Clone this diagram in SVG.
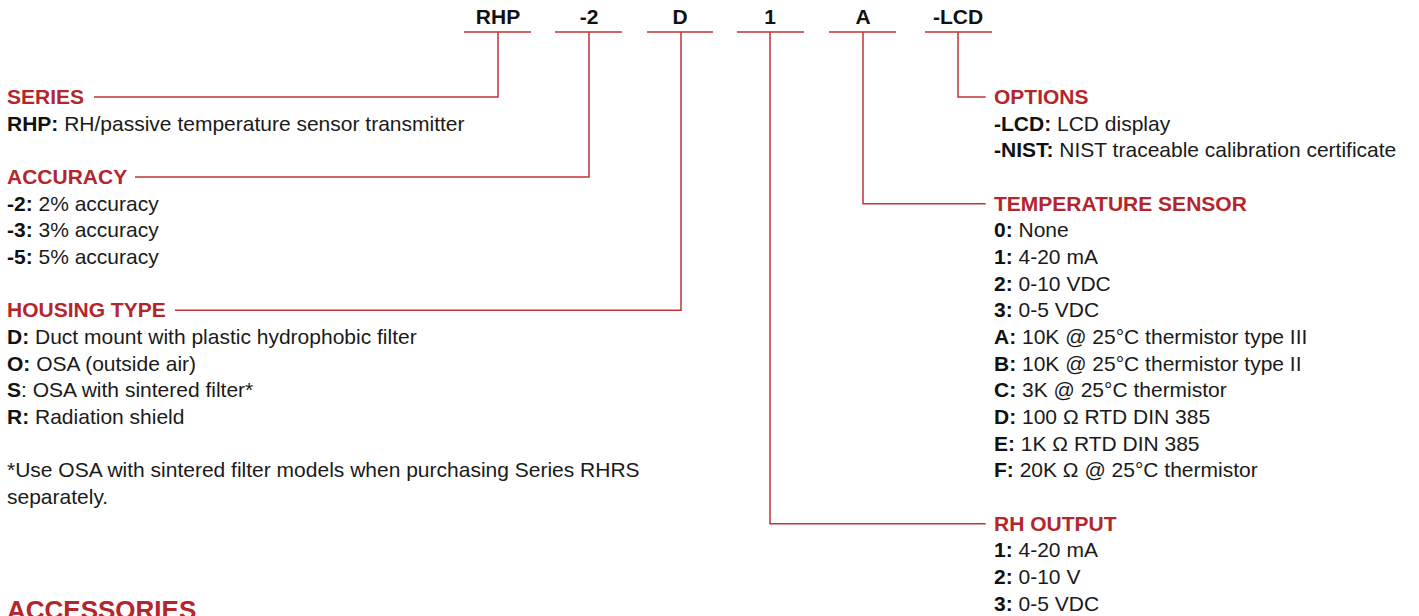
<svg xmlns="http://www.w3.org/2000/svg" width="1419" height="616" viewBox="0 0 1419 616">
<style>
text{font-family:"Liberation Sans",Arial,Helvetica,sans-serif;font-size:21px;fill:#1a1a1a}
.code{font-weight:bold;fill:#111;text-anchor:middle}
.h{font-weight:bold;fill:#b3262c}
.b{font-weight:bold;fill:#111}
.r{font-weight:normal}
.ln{fill:none;stroke:#c0333a;stroke-width:1.5}
</style>
<rect width="1419" height="616" fill="#fff"/>
<g id="codes">
<text class="code" x="498" y="24">RHP</text>
<text class="code" x="589" y="24">-2</text>
<text class="code" x="680" y="24">D</text>
<text class="code" x="770" y="24">1</text>
<text class="code" x="863" y="24">A</text>
<text class="code" x="958" y="24">-LCD</text>
</g>
<g id="connectors" class="ln">
<path d="M464 32H531M555 32H622M647 32H713M737 32H804M829 32H896M925 32H992"/>
<path d="M94 97H498V32"/>
<path d="M135 177H589V32"/>
<path d="M175 310.3H681V32"/>
<path d="M770 32V523.7H985.7"/>
<path d="M863 32V203.7H985.7"/>
<path d="M958 32V97H985.7"/>
</g>
<g id="series">
<text class="h" x="7" y="104">SERIES</text>
<text x="7" y="130.7"><tspan class="b">RHP:</tspan> RH/passive temperature sensor transmitter</text>
</g>
<g id="accuracy">
<text class="h" x="7" y="184">ACCURACY</text>
<text x="7" y="210.7"><tspan class="b">-2:</tspan> 2% accuracy</text>
<text x="7" y="237.3"><tspan class="b">-3:</tspan> 3% accuracy</text>
<text x="7" y="264"><tspan class="b">-5:</tspan> 5% accuracy</text>
</g>
<g id="housing">
<text class="h" x="7" y="317.3">HOUSING TYPE</text>
<text x="7" y="344"><tspan class="b">D:</tspan> Duct mount with plastic hydrophobic filter</text>
<text x="7" y="370.7"><tspan class="b">O:</tspan> OSA (outside air)</text>
<text x="7" y="397.3"><tspan class="b">S</tspan>: OSA with sintered filter*</text>
<text x="7" y="424"><tspan class="b">R:</tspan> Radiation shield</text>
<text x="7" y="477.3">*Use OSA with sintered filter models when purchasing Series RHRS</text>
<text x="7" y="504">separately.</text>
</g>
<g id="accessories">
<text class="h" x="7" y="619" style="font-size:26px">ACCESSORIES</text>
</g>
<g id="options">
<text class="h" x="994" y="104">OPTIONS</text>
<text x="994" y="130.7"><tspan class="b">-LCD:</tspan> LCD display</text>
<text x="994" y="157.3"><tspan class="b">-NIST:</tspan> NIST traceable calibration certificate</text>
</g>
<g id="temperature">
<text class="h" x="994" y="210.7">TEMPERATURE SENSOR</text>
<text x="994" y="237.3"><tspan class="b">0:</tspan> None</text>
<text x="994" y="264"><tspan class="b">1:</tspan> 4-20 mA</text>
<text x="994" y="290.7"><tspan class="b">2:</tspan> 0-10 VDC</text>
<text x="994" y="317.3"><tspan class="b">3:</tspan> 0-5 VDC</text>
<text x="994" y="344"><tspan class="b">A:</tspan> 10K @ 25°C thermistor type III</text>
<text x="994" y="370.7"><tspan class="b">B:</tspan> 10K @ 25°C thermistor type II</text>
<text x="994" y="397.3"><tspan class="b">C:</tspan> 3K @ 25°C thermistor</text>
<text x="994" y="424"><tspan class="b">D:</tspan> 100 Ω RTD DIN 385</text>
<text x="994" y="450.7"><tspan class="b">E:</tspan> 1K Ω RTD DIN 385</text>
<text x="994" y="477.3"><tspan class="b">F:</tspan> 20K Ω @ 25°C thermistor</text>
</g>
<g id="rhoutput">
<text class="h" x="994" y="530.7">RH OUTPUT</text>
<text x="994" y="557.3"><tspan class="b">1:</tspan> 4-20 mA</text>
<text x="994" y="584"><tspan class="b">2:</tspan> 0-10 V</text>
<text x="994" y="610.7"><tspan class="b">3:</tspan> 0-5 VDC</text>
</g>
</svg>
